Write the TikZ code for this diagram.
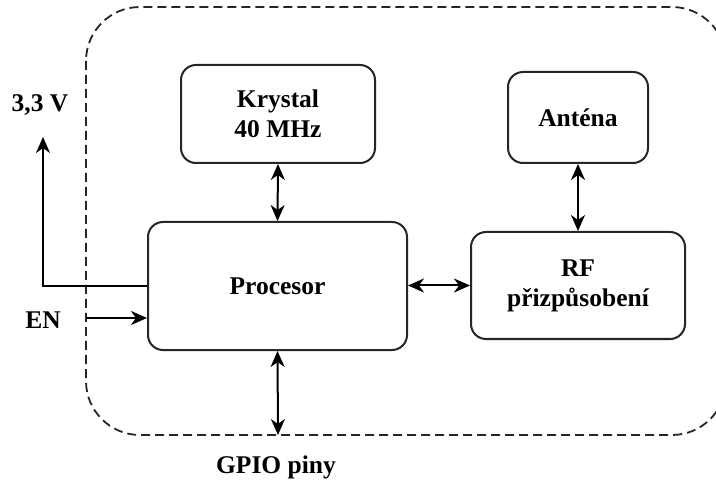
\documentclass[tikz,border=0pt]{standalone}
\usepackage{fontspec}
\setmainfont{Liberation Serif}
\usetikzlibrary{arrows.meta,calc}
\begin{document}
\begin{tikzpicture}[x=1pt,y=-1pt,
  blk/.style={draw=black!85,line width=2pt,rounded corners=15pt,fill=white,
    align=center,font=\fontsize{25.5}{30}\selectfont\bfseries,inner sep=0pt},
  lbl/.style={font=\fontsize{25.5}{30}\selectfont\bfseries,inner sep=0pt},
  conn/.style={line width=2pt,draw=black},
  tip/.style={-{Stealth[length=16pt,width=14pt,inset=5pt]}},
  bitip/.style={{Stealth[length=16pt,width=14pt,inset=5pt]}-{Stealth[length=16pt,width=14pt,inset=5pt]}},
  frame/.style={draw=black!85,line width=1.8pt,dash pattern=on 9pt off 5pt,rounded corners=54pt}]
\useasboundingbox (0,0) rectangle (716,484);
\clip (0,0) rectangle (716,484);
\fill[white] (0,0) rectangle (716,484);
\draw[frame] (86,7) rectangle (726,435);
\node[blk,minimum width=194pt,minimum height=98pt] (kry) at (278,114) {Krystal\\40 MHz};
\node[blk,minimum width=140pt,minimum height=91pt] (ant) at (578,117.5) {Anténa};
\node[blk,minimum width=214pt,minimum height=107pt] (rf) at (578,285.5) {RF\\přizpůsobení};
\node[blk,minimum width=259pt,minimum height=128pt] (proc) at (277.5,286) {Procesor};
\coordinate (gpio) at (278,435);
\coordinate (vtop) at (43,137);
\coordinate (vcorner) at (43,286);
\coordinate (en) at (86,318);
\node[lbl] (gpiol) at (276,467) {GPIO piny};
\node[lbl] (vl) at (40,105) {3,3 V};
\node[lbl] (enl) at (43,320) {EN};
\draw[conn,bitip] (kry.south) -- (proc.north);
\draw[conn,bitip] (ant.south) -- (rf.north);
\draw[conn,bitip] (proc.east |- rf.west) -- (rf.west);
\draw[conn,bitip] (proc.south) -- (gpio);
\draw[conn,tip] (proc.west) -- (vcorner) -- (vtop);
\draw[conn,tip] (en) -- (en -| proc.west);
\end{tikzpicture}
\end{document}
